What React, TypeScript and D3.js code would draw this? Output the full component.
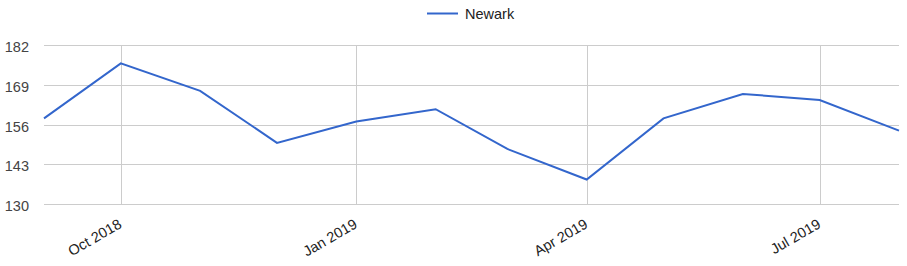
import React from "react";
import * as d3 from "d3";

const months = ["2018-09-01","2018-10-01","2018-11-01","2018-12-01","2019-01-01","2019-02-01","2019-03-01","2019-04-01","2019-05-01","2019-06-01","2019-07-01","2019-08-01"];
const values = [158, 176, 167, 150, 157, 161, 148, 138, 158, 166, 164, 154];
const yTicks = [130, 143, 156, 169, 182];
const xTickDates = ["2018-10-01","2019-01-01","2019-04-01","2019-07-01"];
const xTickLabels = ["Oct 2018","Jan 2019","Apr 2019","Jul 2019"];
const seriesName = "Newark";

const W = 907, H = 266;
const left = 44, right = 899, top = 45, bottom = 204;
const font = "Arial, 'Liberation Sans', sans-serif";

export default function App() {
  const parse = d3.utcParse("%Y-%m-%d");
  const dates = months.map(m => parse(m)!);
  const x = d3.scaleUtc().domain([dates[0], dates[dates.length - 1]]).range([left, right]);
  const y = d3.scaleLinear().domain([130, 182]).range([bottom, top]);
  const line = d3.line<number>().x((_, i) => x(dates[i])).y(v => y(v));
  const tickDates = xTickDates.map(d => parse(d)!);
  return (
    <svg width={W} height={H} style={{ position: "absolute", left: 0, top: 0, fontFamily: font }}>
      <rect width={W} height={H} fill="#fff" />
      {yTicks.map(t => (
        <g key={t}>
          <line x1={left} x2={right} y1={Math.round(y(t)) + 0.5} y2={Math.round(y(t)) + 0.5} stroke="#cccccc" />
          <text x={29} y={y(t) + 7} textAnchor="end" fontSize={14.5} fill="#444">{t}</text>
        </g>
      ))}
      {tickDates.map((d, i) => (
        <g key={i}>
          <line x1={Math.round(x(d)) + 0.5} x2={Math.round(x(d)) + 0.5} y1={top} y2={bottom} stroke="#cccccc" />
          <text transform={`translate(${x(d) + 2},${bottom + 23}) rotate(-30)`} textAnchor="end" fontSize={14.5} fill="#222">{xTickLabels[i]}</text>
        </g>
      ))}
      <path d={line(values)!} fill="none" stroke="#3366cc" strokeWidth={2} />
      <line x1={427} x2={458} y1={13.5} y2={13.5} stroke="#3366cc" strokeWidth={2} />
      <text x={465} y={18.5} fontSize={14.5} fill="#222">{seriesName}</text>
    </svg>
  );
}
